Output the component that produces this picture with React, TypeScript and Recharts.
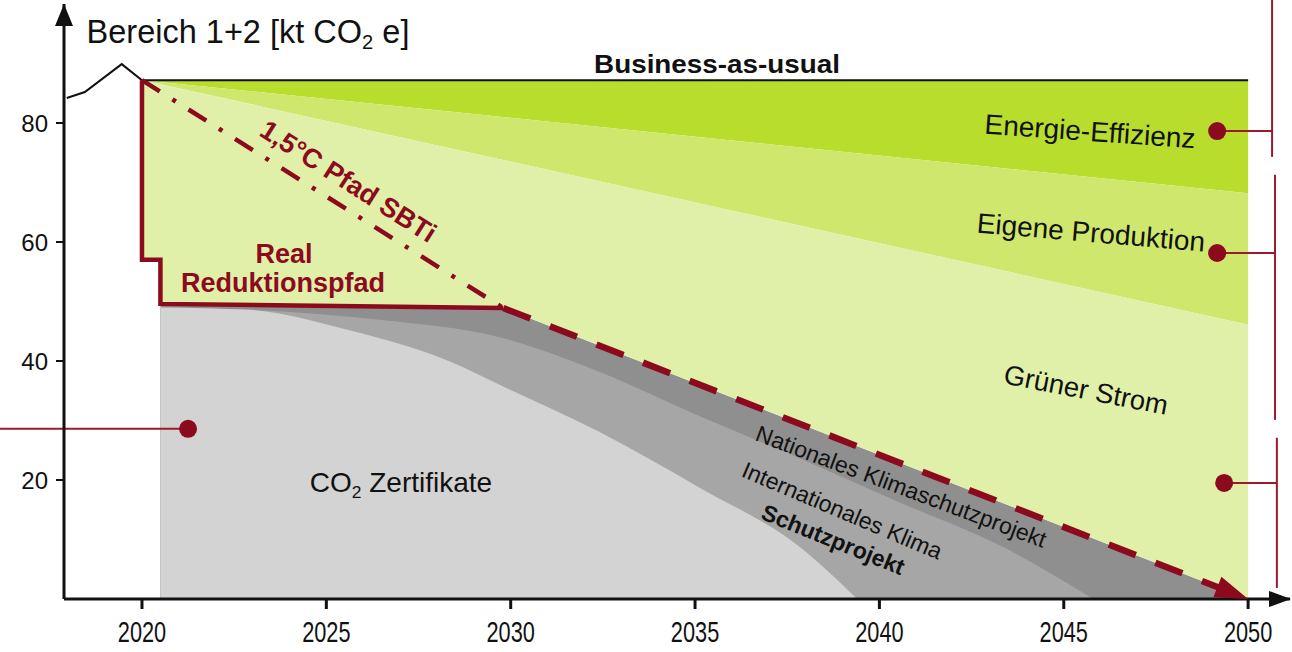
import React from 'react';
import { ComposedChart, Area, Line, XAxis, YAxis, ReferenceLine, ReferenceDot } from 'recharts';

// ---- axis values ----
const xTicks = [2020, 2025, 2030, 2035, 2040, 2045, 2050];
const yTicks = [20, 40, 60, 80];
const xDomain = [2017.885, 2051.136];
const yDomain = [0, 100];

// ---- business as usual (history + flat BAU) ----
const bauLine = [
  { x: 2017.96, y: 84.2 },
  { x: 2018.45, y: 85.2 },
  { x: 2019.45, y: 89.9 },
  { x: 2020, y: 87.2 },
  { x: 2050, y: 87.2 },
];

// ---- green reduction bands (low / high) ----
const energieBand = [
  { x: 2020, lo: 87.2, hi: 87.2 },
  { x: 2050, lo: 68.2, hi: 87.2 },
];
const produktionBand = [
  { x: 2020, lo: 87.2, hi: 87.2 },
  { x: 2050, lo: 46.1, hi: 68.2 },
];
const stromBand = [
  { x: 2020, lo: 57.0, hi: 87.2 },
  { x: 2020.5, lo: 57.0, hi: 86.5 },
  { x: 2020.5, lo: 49.4, hi: 86.5 },
  { x: 2029.8, lo: 48.9, hi: 73.8 },
  { x: 2050, lo: 0, hi: 46.1 },
];

// ---- grey compensation layers (top edges, from 0) ----
const nationalTop = [
  { x: 2020.5, y: 49.4 },
  { x: 2029.8, y: 48.9 },
  { x: 2050, y: 0 },
];
const internationalTop = [
  { x: 2020.5, y: 49.0 },
  { x: 2023, y: 48.6 },
  { x: 2026.5, y: 46.9 },
  { x: 2029.7, y: 44.0 },
  { x: 2032.4, y: 38.2 },
  { x: 2035.1, y: 30.8 },
  { x: 2037.9, y: 23.5 },
  { x: 2040.6, y: 16.1 },
  { x: 2043.3, y: 8.9 },
  { x: 2045.8, y: 0 },
];
const zertifikateTop = [
  { x: 2020.5, y: 49.0 },
  { x: 2022.9, y: 48.6 },
  { x: 2025.6, y: 45.2 },
  { x: 2028.4, y: 39.8 },
  { x: 2029.7, y: 36.0 },
  { x: 2032.4, y: 28.1 },
  { x: 2035.1, y: 18.8 },
  { x: 2037.85, y: 8.7 },
  { x: 2039.4, y: 0 },
];

// ---- paths ----
const realPath = [
  { x: 2020, y: 87.2 },
  { x: 2020, y: 57.0 },
  { x: 2020.5, y: 57.0 },
  { x: 2020.5, y: 49.6 },
  { x: 2029.8, y: 48.9 },
];
const sbtiPath = [
  { x: 2020, y: 87.2 },
  { x: 2029.8, y: 48.9 },
];
const targetPath = [
  { x: 2029.8, y: 48.9 },
  { x: 2050, y: 0 },
];

// ---- annotation markers ----
const markerDots = [
  { x: 2021.25, y: 28.6 },
  { x: 2049.16, y: 78.65 },
  { x: 2049.16, y: 58.15 },
  { x: 2049.35, y: 19.5 },
];
const markerSegments = [
  [{ x: 2016.15, y: 28.6 }, { x: 2021.25, y: 28.6 }],
  [{ x: 2049.16, y: 78.65 }, { x: 2050.65, y: 78.65 }],
  [{ x: 2049.16, y: 58.15 }, { x: 2050.73, y: 58.15 }],
  [{ x: 2049.35, y: 19.5 }, { x: 2050.78, y: 19.5 }],
  [{ x: 2050.65, y: 100.7 }, { x: 2050.65, y: 74.3 }],
  [{ x: 2050.73, y: 71.3 }, { x: 2050.73, y: 30.1 }],
  [{ x: 2050.78, y: 27.1 }, { x: 2050.78, y: 1.85 }],
];

const RED = '#8c0a1e';
const DARK_GREEN = '#b9dd2d';
const MID_GREEN = '#cfe76c';
const LIGHT_GREEN = '#e1f0a9';
const GREY_DARK = '#8f8f8f';
const GREY_MID = '#a6a6a6';
const GREY_LIGHT = '#d3d3d3';
const INK = '#111';
const FONT = '"Liberation Sans", Arial, Helvetica, sans-serif';

const rangeKey = (d: any) => [d.lo, d.hi];

const T = ({ x, y, rot = 0, size, bold = false, color = INK, sx = 1, children }: any) => (
  <div
    style={{
      position: 'absolute',
      left: x,
      top: y,
      transform: `translate(-50%,-50%) rotate(${rot}deg) scaleX(${sx})`,
      fontSize: size,
      fontWeight: bold ? 700 : 400,
      color,
      whiteSpace: 'nowrap',
      lineHeight: 1,
      fontFamily: FONT,
      pointerEvents: 'none',
    }}
  >
    {children}
  </div>
);

const Sub = ({ children }: any) => (
  <span style={{ fontSize: '0.62em', position: 'relative', top: '0.32em' }}>{children}</span>
);

const XTick = (props: any) => {
  const { x, y, payload } = props;
  return (
    <text
      x={0}
      y={0}
      dy="0.71em"
      textAnchor="middle"
      transform={`translate(${x},${y}) scale(0.75,1)`}
      fontSize={29}
      fill={INK}
      fontFamily={FONT}
    >
      {payload.value}
    </text>
  );
};

const arrowDot = (props: any) => {
  const { cx, cy, index } = props;
  if (index !== targetPath.length - 1 || cx == null) return <g key={`a${index}`} />;
  return (
    <polygon
      key={`a${index}`}
      points="0,0 -33,-11 -33,11"
      fill={RED}
      transform={`translate(${cx},${cy}) rotate(21.4)`}
    />
  );
};

const upArrow = (p: any) => (
  <polygon points="0,0 -9,22 9,22" fill={INK} transform={`translate(${p.cx},${p.cy})`} />
);
const rightArrow = (p: any) => (
  <polygon points="1,0 -21,-8 -21,8" fill={INK} transform={`translate(${p.cx},${p.cy})`} />
);

export default function App() {
  return (
    <div style={{ position: 'absolute', left: 0, top: 0, width: 1292, height: 652, background: '#fff', overflow: 'hidden', fontFamily: FONT }}>
      <ComposedChart width={1292} height={652} margin={{ top: 4, right: 2, bottom: 0, left: 0 }}>
        <Area data={nationalTop} dataKey="y" type="linear" fill={GREY_DARK} fillOpacity={1} stroke="none" isAnimationActive={false} activeDot={false} />
        <Area data={internationalTop} dataKey="y" type="monotone" fill={GREY_MID} fillOpacity={1} stroke="none" isAnimationActive={false} activeDot={false} />
        <Area data={zertifikateTop} dataKey="y" type="monotone" fill={GREY_LIGHT} fillOpacity={1} stroke="none" isAnimationActive={false} activeDot={false} />
        <Area data={energieBand} dataKey={rangeKey} type="linear" fill={DARK_GREEN} fillOpacity={1} stroke="none" isAnimationActive={false} activeDot={false} />
        <Area data={produktionBand} dataKey={rangeKey} type="linear" fill={MID_GREEN} fillOpacity={1} stroke="none" isAnimationActive={false} activeDot={false} />
        <Area data={stromBand} dataKey={rangeKey} type="linear" fill={LIGHT_GREEN} fillOpacity={1} stroke="none" isAnimationActive={false} activeDot={false} />

        <Line data={bauLine} dataKey="y" type="linear" stroke={INK} strokeWidth={2} dot={false} activeDot={false} isAnimationActive={false} />
        <Line data={sbtiPath} dataKey="y" type="linear" stroke={RED} strokeWidth={4.5} strokeDasharray="21 15 4 15" dot={false} activeDot={false} isAnimationActive={false} />
        <Line data={targetPath} dataKey="y" type="linear" stroke={RED} strokeWidth={6.5} strokeDasharray="29 21" dot={arrowDot} activeDot={false} isAnimationActive={false} />
        <Line data={realPath} dataKey="y" type="linear" stroke={RED} strokeWidth={4.5} strokeLinejoin="miter" dot={false} activeDot={false} isAnimationActive={false} />

        <XAxis
          type="number"
          dataKey="x"
          domain={xDomain}
          ticks={xTicks}
          allowDataOverflow
          height={53}
          axisLine={{ stroke: INK, strokeWidth: 3 }}
          tickLine={{ stroke: INK, strokeWidth: 3 }}
          tickSize={10}
          tickMargin={12}
          tick={<XTick />}
        />
        <YAxis
          type="number"
          domain={yDomain}
          ticks={yTicks}
          allowDataOverflow
          width={64}
          axisLine={{ stroke: INK, strokeWidth: 3 }}
          tickLine={{ stroke: INK, strokeWidth: 2 }}
          tickSize={8}
          tickMargin={8}
          tick={{ fill: INK, fontSize: 24, fontFamily: FONT }}
        />

        {markerSegments.map((s, i) => (
          <ReferenceLine key={`s${i}`} segment={s} stroke="#9a1a2e" strokeWidth={2} ifOverflow="visible" />
        ))}
        {markerDots.map((d, i) => (
          <ReferenceDot key={`d${i}`} x={d.x} y={d.y} r={9} fill={RED} stroke="none" ifOverflow="visible" />
        ))}
        <ReferenceDot x={xDomain[0]} y={yDomain[1]} r={1} ifOverflow="visible" shape={upArrow} />
        <ReferenceDot x={xDomain[1]} y={yDomain[0]} r={1} ifOverflow="visible" shape={rightArrow} />
      </ComposedChart>

      <T x={248} y={32} size={32.5}>Bereich 1+2 [kt CO<Sub>2</Sub> e]</T>
      <T x={717} y={64} size={26} bold sx={1.07}>Business-as-usual</T>
      <T x={1090} y={132} size={28} rot={4}>Energie-Effizienz</T>
      <T x={1091} y={233} size={28} rot={4.8}>Eigene Produktion</T>
      <T x={1086} y={390} size={27.5} rot={11}>Grüner Strom</T>
      <T x={901} y={487} size={23} rot={20.5}>Nationales Klimaschutzprojekt</T>
      <T x={842} y={511} size={23} rot={23}>Internationales Klima</T>
      <T x={833} y={540} size={23} rot={22} bold>Schutzprojekt</T>
      <T x={348} y={182} size={27} rot={32.5} bold color={RED}>1,5°C Pfad SBTi</T>
      <T x={284} y={254} size={27} bold color={RED}>Real</T>
      <T x={283} y={283} size={27} bold color={RED}>Reduktionspfad</T>
      <T x={401} y={483} size={28}>CO<Sub>2</Sub> Zertifikate</T>
    </div>
  );
}
